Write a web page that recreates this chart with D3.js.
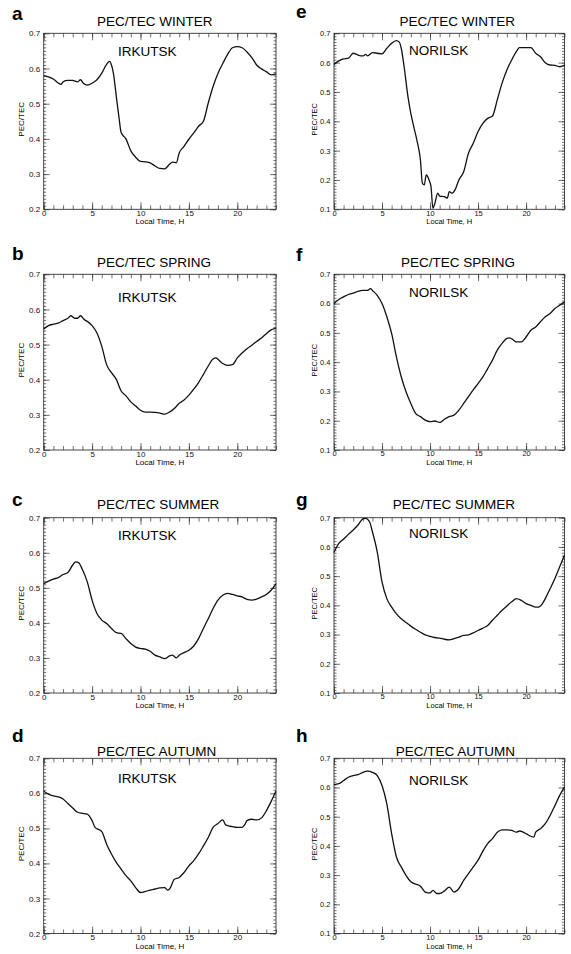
<!DOCTYPE html>
<html>
<head>
<meta charset="utf-8">
<script src="https://cdn.jsdelivr.net/npm/d3@7"></script>
<style>
body { margin: 0; background: #fff; }
svg { display: block; font-family: "Liberation Sans", Arial, Helvetica, sans-serif; }
</style>
</head>
<body>
<svg id="chart" width="571" height="954"></svg>
<script>
/* PEC/TEC diurnal curves, Irkutsk & Norilsk */
const seasons = ["WINTER", "SPRING", "SUMMER", "AUTUMN"]
const stations = ["IRKUTSK", "NORILSK"]
const letters = [["a", "b", "c", "d"], ["e", "f", "g", "h"]]
const xTicks = [0, 5, 10, 15, 20]
const yTicksIrk = [0.2, 0.3, 0.4, 0.5, 0.6, 0.7]
const yTicksNor = [0.1, 0.2, 0.3, 0.4, 0.5, 0.6, 0.7]

// [local time (h), PEC/TEC]
const irkWinter = [[0,0.58],[0.5,0.576],[1,0.57],[1.5,0.559],[1.8,0.555],[2,0.562],[2.5,0.566],[3,0.566],[3.5,0.562],[3.8,0.568],[4.1,0.558],[4.5,0.553],[5,0.558],[5.5,0.568],[6,0.587],[6.5,0.612],[6.8,0.62],[7,0.61],[7.2,0.587],[7.5,0.521],[7.8,0.456],[8,0.418],[8.5,0.4],[9,0.366],[9.5,0.348],[10,0.336],[10.5,0.335],[11,0.332],[11.5,0.323],[12,0.316],[12.5,0.315],[13,0.328],[13.3,0.334],[13.7,0.332],[14,0.36],[14.5,0.379],[15,0.399],[15.5,0.417],[16,0.436],[16.5,0.45],[17,0.502],[17.5,0.549],[18,0.586],[18.5,0.614],[19,0.64],[19.5,0.659],[20,0.662],[20.5,0.659],[21,0.647],[21.5,0.631],[22,0.61],[22.5,0.599],[23,0.591],[23.5,0.582],[24,0.585]]
const irkSpring = [[0,0.544],[0.5,0.554],[1,0.558],[1.5,0.561],[2,0.568],[2.5,0.575],[2.8,0.582],[3.2,0.575],[3.5,0.575],[3.8,0.582],[4.2,0.571],[4.5,0.566],[5,0.554],[5.5,0.533],[6,0.495],[6.5,0.443],[7,0.42],[7.5,0.401],[8,0.368],[8.5,0.354],[9,0.337],[9.5,0.325],[10,0.313],[10.5,0.308],[11,0.308],[11.5,0.307],[12,0.305],[12.5,0.302],[13,0.308],[13.5,0.318],[14,0.333],[14.5,0.342],[15,0.356],[15.5,0.373],[16,0.392],[16.5,0.415],[17,0.439],[17.5,0.459],[17.8,0.462],[18,0.458],[18.5,0.446],[19,0.441],[19.5,0.443],[20,0.462],[20.5,0.476],[21,0.488],[21.5,0.498],[22,0.509],[22.5,0.519],[23,0.531],[23.5,0.542],[24,0.547]]
const irkSummer = [[0,0.512],[0.5,0.519],[1,0.525],[1.5,0.529],[2,0.538],[2.5,0.544],[3,0.565],[3.3,0.574],[3.6,0.572],[4,0.552],[4.5,0.517],[5,0.465],[5.5,0.427],[6,0.408],[6.5,0.398],[7,0.384],[7.5,0.372],[8,0.37],[8.5,0.355],[9,0.341],[9.5,0.331],[10,0.327],[10.5,0.325],[11,0.319],[11.5,0.308],[12,0.303],[12.5,0.298],[13,0.306],[13.3,0.308],[13.7,0.3],[14,0.308],[14.5,0.315],[15,0.322],[15.5,0.334],[16,0.355],[16.5,0.384],[17,0.412],[17.5,0.441],[18,0.465],[18.5,0.479],[19,0.484],[19.5,0.481],[20,0.477],[20.5,0.474],[21,0.467],[21.5,0.465],[22,0.468],[22.5,0.474],[23,0.481],[23.5,0.493],[24,0.512]]
const irkAutumn = [[0,0.606],[0.5,0.598],[1,0.593],[1.5,0.59],[2,0.584],[2.5,0.571],[3,0.558],[3.5,0.546],[4,0.543],[4.5,0.541],[5,0.522],[5.3,0.503],[6,0.491],[6.5,0.455],[7,0.427],[7.5,0.403],[8,0.384],[8.5,0.365],[9,0.35],[9.5,0.331],[10,0.317],[10.5,0.32],[11,0.324],[11.5,0.327],[12,0.33],[12.5,0.331],[12.8,0.324],[13,0.327],[13.5,0.355],[14,0.36],[14.5,0.374],[15,0.393],[15.5,0.408],[16,0.427],[16.5,0.45],[17,0.474],[17.5,0.503],[18,0.514],[18.5,0.524],[18.8,0.51],[19,0.508],[19.5,0.505],[20,0.503],[20.5,0.503],[20.8,0.512],[21,0.522],[21.5,0.526],[22,0.524],[22.5,0.53],[23,0.55],[23.5,0.577],[24,0.606]]

const norWinter = [[0,0.594],[0.5,0.606],[1,0.613],[1.5,0.615],[2,0.632],[2.5,0.626],[3,0.623],[3.3,0.628],[3.5,0.623],[4,0.634],[4.5,0.632],[5,0.63],[5.5,0.649],[6,0.666],[6.5,0.675],[6.8,0.67],[7,0.649],[7.3,0.586],[7.7,0.484],[8,0.427],[8.3,0.382],[8.7,0.325],[9,0.268],[9.2,0.189],[9.4,0.183],[9.6,0.217],[9.9,0.2],[10.1,0.177],[10.3,0.103],[10.5,0.12],[10.8,0.155],[11,0.145],[11.5,0.143],[11.8,0.138],[12,0.16],[12.3,0.155],[12.6,0.166],[13,0.2],[13.5,0.228],[14,0.291],[14.5,0.325],[15,0.365],[15.5,0.393],[16,0.41],[16.5,0.418],[17,0.473],[17.5,0.53],[18,0.575],[18.5,0.609],[19,0.638],[19.3,0.651],[20,0.651],[20.5,0.651],[21,0.632],[21.5,0.62],[22,0.6],[22.5,0.592],[23,0.591],[23.5,0.586],[24,0.592]]
const norSpring = [[0,0.6],[0.5,0.614],[1,0.623],[1.5,0.631],[2,0.636],[2.5,0.642],[3,0.645],[3.5,0.645],[3.8,0.651],[4,0.645],[4.5,0.628],[5,0.6],[5.5,0.555],[6,0.498],[6.5,0.418],[7,0.35],[7.5,0.299],[8,0.259],[8.5,0.225],[9,0.214],[9.5,0.202],[10,0.197],[10.5,0.199],[11,0.194],[11.5,0.205],[12,0.214],[12.5,0.219],[13,0.236],[13.5,0.259],[14,0.282],[14.5,0.305],[15,0.327],[15.5,0.35],[16,0.378],[16.5,0.407],[17,0.441],[17.5,0.464],[18,0.481],[18.3,0.483],[18.7,0.475],[19,0.469],[19.5,0.469],[20,0.486],[20.5,0.509],[21,0.52],[21.5,0.538],[22,0.555],[22.5,0.566],[23,0.583],[23.5,0.594],[24,0.606]]
const norSummer = [[0,0.581],[0.5,0.612],[1,0.627],[1.5,0.643],[2,0.658],[2.5,0.675],[3,0.696],[3.3,0.698],[3.7,0.686],[4,0.652],[4.5,0.583],[5,0.48],[5.5,0.423],[6,0.394],[6.5,0.371],[7,0.354],[7.5,0.341],[8,0.329],[8.5,0.318],[9,0.308],[9.5,0.299],[10,0.294],[10.5,0.29],[11,0.288],[11.5,0.284],[12,0.282],[12.5,0.286],[13,0.291],[13.5,0.297],[14,0.299],[14.5,0.306],[15,0.314],[15.5,0.322],[16,0.331],[16.5,0.349],[17,0.366],[17.5,0.383],[18,0.398],[18.5,0.412],[19,0.423],[19.5,0.417],[20,0.406],[20.5,0.4],[21,0.394],[21.3,0.394],[21.7,0.406],[22,0.423],[22.5,0.457],[23,0.492],[23.5,0.532],[24,0.572]]
const norAutumn = [[0,0.61],[0.5,0.613],[1,0.624],[1.5,0.635],[2,0.641],[2.5,0.644],[3,0.652],[3.5,0.656],[4,0.652],[4.5,0.641],[5,0.607],[5.5,0.544],[6,0.442],[6.5,0.362],[7,0.328],[7.5,0.299],[8,0.277],[8.5,0.269],[9,0.262],[9.5,0.242],[10,0.239],[10.3,0.248],[10.7,0.237],[11,0.237],[11.5,0.246],[12,0.259],[12.5,0.242],[13,0.254],[13.5,0.282],[14,0.305],[14.5,0.328],[15,0.351],[15.5,0.382],[16,0.408],[16.5,0.425],[17,0.447],[17.5,0.455],[18,0.455],[18.5,0.453],[19,0.447],[19.3,0.451],[19.7,0.447],[20,0.442],[20.5,0.433],[20.8,0.43],[21,0.447],[21.5,0.459],[22,0.476],[22.5,0.504],[23,0.538],[23.5,0.573],[24,0.601]]

const series = [
    [irkWinter, irkSpring, irkSummer, irkAutumn],
    [norWinter, norSpring, norSummer, norAutumn]
]
const yTicks = [yTicksIrk, yTicksNor]

// layout
const colX = [[43.7, 276], [334, 564.5]]
const rowY = [[33.3, 209.3], [274.3, 450], [517.7, 693], [758.3, 933.5]]
const letterPos = [[12, [20, 260, 506, 742]], [296, [18, 261, 506, 742]]]
const titleBase = [26, 267, 509, 756]
const stationPos = [[118, [56, 302, 540, 783]], [409, [55, 297, 538, 785]]]
const fontSmall = [8, 7.5]

const svg = d3.select("#chart")

stations.forEach((st, c) => {
    seasons.forEach((se, r) => {
        const [x0, x1] = colX[c], [y0, y1] = rowY[r]
        const fs = fontSmall[c]
        const ticks = yTicks[c]

        const x = d3.scaleLinear().domain([0, 24]).range([x0, x1])
        const y = d3.scaleLinear().domain(d3.extent(ticks)).range([y1, y0])

        const g = svg.append("g")

        const noDomain = sel => sel.select(".domain").remove()
        const styleTicks = sel => sel.selectAll("line").attr("stroke", "#333").attr("stroke-width", 0.7)

        const hours = d3.range(0, 25)
        const minorY = d3.range(Math.round(ticks[0] * 100), 71).map(v => v / 100)

        // minor ticks on all sides
        g.append("g").attr("transform", `translate(0,${y1})`)
            .call(d3.axisBottom(x).tickValues(hours).tickSize(-4).tickFormat(""))
            .call(noDomain).call(styleTicks)
        g.append("g").attr("transform", `translate(0,${y0})`)
            .call(d3.axisTop(x).tickValues(hours).tickSize(-4).tickFormat(""))
            .call(noDomain).call(styleTicks)
        g.append("g").attr("transform", `translate(${x0},0)`)
            .call(d3.axisLeft(y).tickValues(minorY).tickSize(-2.5).tickFormat(""))
            .call(noDomain).call(styleTicks)
        g.append("g").attr("transform", `translate(${x1},0)`)
            .call(d3.axisRight(y).tickValues(minorY).tickSize(-2.5).tickFormat(""))
            .call(noDomain).call(styleTicks)

        // major ticks
        g.append("g").attr("transform", `translate(0,${y1})`)
            .call(d3.axisBottom(x).tickValues(xTicks).tickSize(-7).tickPadding(1))
            .call(noDomain).call(styleTicks)
            .selectAll("text").attr("font-size", fs).attr("fill", "#111")
        g.append("g").attr("transform", `translate(0,${y0})`)
            .call(d3.axisTop(x).tickValues(xTicks).tickSize(-7).tickFormat(""))
            .call(noDomain).call(styleTicks)
        g.append("g").attr("transform", `translate(${x0},0)`)
            .call(d3.axisLeft(y).tickValues(ticks).tickSize(-6).tickPadding(3.5).tickFormat(d3.format(".1f")))
            .call(noDomain).call(styleTicks)
            .selectAll("text").attr("font-size", fs).attr("fill", "#111")
        g.append("g").attr("transform", `translate(${x1},0)`)
            .call(d3.axisRight(y).tickValues(ticks).tickSize(-6).tickFormat(""))
            .call(noDomain).call(styleTicks)

        // frame
        g.append("rect")
            .attr("x", x0).attr("y", y0)
            .attr("width", x1 - x0).attr("height", y1 - y0)
            .attr("fill", "none").attr("stroke", "#333").attr("stroke-width", 0.9)

        // curve
        const line = d3.line()
            .x(d => x(d[0]))
            .y(d => y(d[1]))
            .curve(d3.curveMonotoneX)

        g.append("path")
            .datum(series[c][r])
            .attr("d", line)
            .attr("fill", "none")
            .attr("stroke", "#111")
            .attr("stroke-width", 1.3)

        // texts
        g.append("text")
            .attr("x", letterPos[c][0]).attr("y", letterPos[c][1][r])
            .attr("font-size", 19).attr("font-weight", "bold")
            .text(letters[c][r])

        g.append("text")
            .attr("x", c === 0 ? 97 : 515).attr("y", titleBase[r])
            .attr("text-anchor", c === 0 ? "start" : "end")
            .attr("font-size", 13.5)
            .text("PEC/TEC " + se)

        g.append("text")
            .attr("x", stationPos[c][0]).attr("y", stationPos[c][1][r])
            .attr("font-size", 13.5)
            .text(st)

        g.append("text")
            .attr("x", (x0 + x1) / 2).attr("y", y1 + 15)
            .attr("text-anchor", "middle")
            .attr("font-size", fs)
            .text("Local Time, H")

        g.append("text")
            .attr("transform", `translate(${c === 0 ? 23.5 : 317},${(y0 + y1) / 2 - 2}) rotate(-90)`)
            .attr("text-anchor", "middle")
            .attr("font-size", fs)
            .text("PEC/TEC")
    })
})
</script>
</body>
</html>
